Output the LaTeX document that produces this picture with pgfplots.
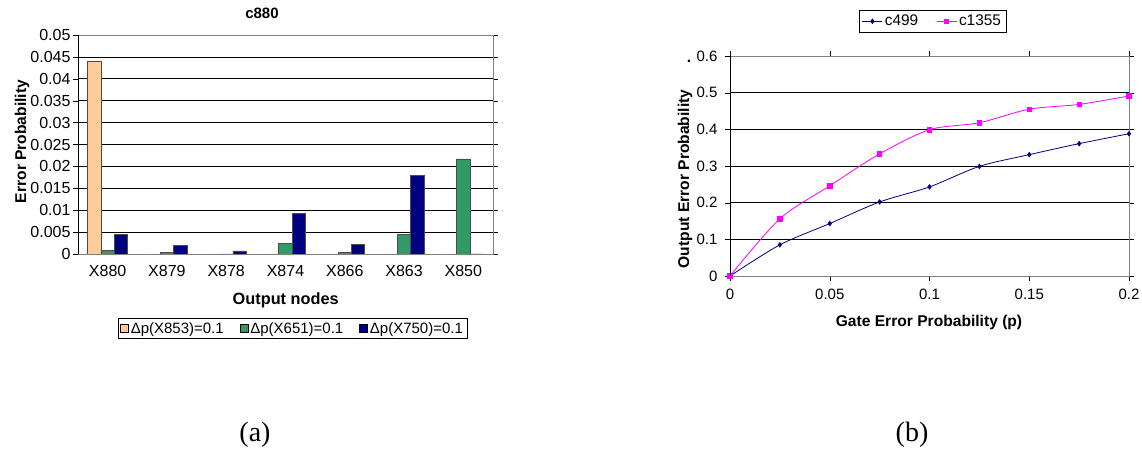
\documentclass[border=0pt]{standalone}
\usepackage{pgfplots}
\pgfplotsset{compat=1.18}
\usepackage{fontspec}
\setmainfont{Liberation Sans}
\newfontfamily\capfont{Liberation Serif}

\definecolor{peach}{HTML}{FFCC99}
\definecolor{seagreen}{HTML}{339966}
\definecolor{navyblue}{HTML}{000080}
\definecolor{pinkline}{HTML}{FF00FF}

\begin{document}
\begin{tikzpicture}
\useasboundingbox (0pt,0pt) rectangle (1142pt,452pt);

% ---- (a) bar chart ----
\begin{axis}[
    at={(78pt,198pt)}, anchor=south west,
    scale only axis, width=415pt, height=219pt,
    ybar=0pt, bar width=13.4pt,
    xmin=-0.5, xmax=6.5, ymin=0, ymax=0.05,
    scaled y ticks=false,
    xtick={0,1,2,3,4,5,6},
    xticklabels={X880,X879,X878,X874,X866,X863,X850},
    minor xtick={-0.5,0.5,1.5,2.5,3.5,4.5,5.5,6.5},
    ytick={0,0.005,0.01,0.015,0.02,0.025,0.03,0.035,0.04,0.045,0.05},
    yticklabels={0,0.005,0.01,0.015,0.02,0.025,0.03,0.035,0.04,0.045,0.05},
    tick align=outside, major tick length=5pt, minor tick length=5pt,
    xtick style={draw=none}, minor tick style={black},
    ytick style={black},
    ymajorgrids, major grid style={black, line width=0.6pt},
    axis line style={gray, line width=0.8pt},
    tick label style={font=\fontsize{16}{19}\selectfont},
    yticklabel style={xshift=1pt},
    xticklabel style={yshift=-3pt},
    legend columns=3,
    legend style={at={(axis description cs:0.517,-0.340)}, anchor=center,
        draw=black, line width=0.8pt, font=\fontsize{15}{18}\selectfont,
        inner sep=2pt,
        /tikz/every even column/.append style={column sep=14pt}},
    legend image code/.code={\draw[#1, draw=black, line width=0.6pt] (0pt,-4pt) rectangle (8pt,4pt);},
]
\addplot[fill=peach, draw=black!70, line width=0.8pt] coordinates
    {(0,0.044) (1,0) (2,0) (3,0) (4,0) (5,0) (6,0)};
\addlegendentry{Δp(X853)=0.1}
\addplot[fill=seagreen, draw=black!70, line width=0.8pt] coordinates
    {(0,0.0008) (1,0.0003) (2,0) (3,0.0024) (4,0.0003) (5,0.0044) (6,0.0217)};
\addlegendentry{Δp(X651)=0.1}
\addplot[fill=navyblue, draw=black!70, line width=0.8pt] coordinates
    {(0,0.0044) (1,0.002) (2,0.0007) (3,0.0092) (4,0.0021) (5,0.0179) (6,0)};
\addlegendentry{Δp(X750)=0.1}
\draw[black, line width=0.8pt] (rel axis cs:0,0) -- (rel axis cs:0,1);
\end{axis}
\node[font=\bfseries\fontsize{15}{18}\selectfont] at (262pt,439pt) {c880};
\node[font=\bfseries\fontsize{15.6}{18}\selectfont, rotate=90] at (22pt,310.5pt) {Error Probability};
\node[font=\bfseries\fontsize{16.3}{19}\selectfont] at (285.7pt,151.3pt) {Output nodes};

% ---- (b) line chart ----
\begin{axis}[
    at={(730pt,176pt)}, anchor=south west,
    scale only axis, width=399pt, height=220pt,
    xmin=0, xmax=0.2, ymin=0, ymax=0.6,
    xtick={0,0.05,0.1,0.15,0.2},
    xticklabels={0,0.05,0.1,0.15,0.2},
    ytick={0,0.1,0.2,0.3,0.4,0.5,0.6},
    yticklabels={0,0.1,0.2,0.3,0.4,0.5,0.6},
    tick align=outside, major tick length=5pt,
    tick style={black},
    ymajorgrids, major grid style={black, line width=0.6pt},
    axis line style={gray, line width=0.8pt},
    tick label style={font=\fontsize{15}{18}\selectfont},
    yticklabel style={xshift=-4pt},
    xticklabel style={yshift=-4pt},
    clip mode=individual,
    legend columns=2,
    legend style={at={(axis description cs:0.5075,1.158)}, anchor=center,
        draw=black, line width=0.8pt, font=\fontsize{15.4}{18}\selectfont,
        inner sep=3pt,
        /tikz/every even column/.append style={column sep=16pt}},
    legend image code/.code={\draw[mark repeat=2, mark phase=2, #1]
        plot coordinates {(0pt,0pt) (10pt,0pt) (20pt,0pt)};},
]
\addplot[navyblue, line width=0.8pt, smooth, mark=diamond*, mark size=2.2pt,
    mark options={solid, fill=navyblue}] coordinates
    {(0,0) (0.025,0.085) (0.05,0.143) (0.075,0.202) (0.1,0.243)
     (0.125,0.299) (0.15,0.331) (0.175,0.361) (0.2,0.388)};
\addlegendentry{c499}
\addplot[pinkline, line width=0.8pt, smooth, mark=square*, mark size=2.2pt,
    mark options={solid, fill=pinkline}] coordinates
    {(0,0) (0.025,0.156) (0.05,0.246) (0.075,0.333) (0.1,0.399)
     (0.125,0.418) (0.15,0.455) (0.175,0.468) (0.2,0.491)};
\addlegendentry{c1355}
\draw[black, line width=0.8pt] (rel axis cs:0,0) -- (rel axis cs:0,1);
\end{axis}
\node[font=\bfseries\fontsize{15.6}{18}\selectfont, rotate=90] at (685pt,273pt) {Output Error Probability};
\node[font=\bfseries\fontsize{15.6}{18}\selectfont] at (689pt,391pt) {.};
\node[font=\bfseries\fontsize{15.6}{18}\selectfont] at (929pt,130pt) {Gate Error Probability (p)};

% ---- captions ----
\node[font=\capfont\fontsize{28}{32}\selectfont] at (255pt,17pt) {(a)};
\node[font=\capfont\fontsize{28}{32}\selectfont] at (912pt,17pt) {(b)};
\end{tikzpicture}
\end{document}
